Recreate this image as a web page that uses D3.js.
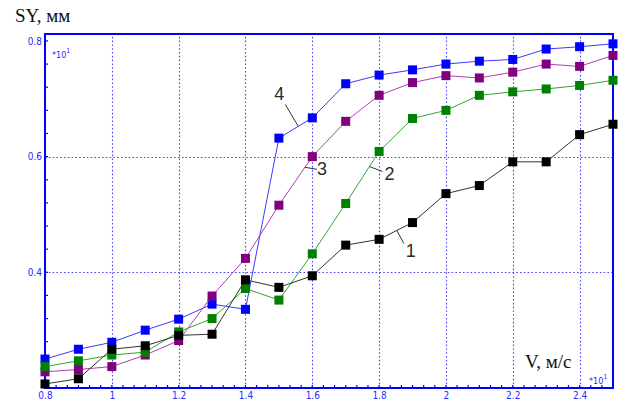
<!DOCTYPE html>
<html>
<head>
<meta charset="utf-8">
<script src="https://cdn.jsdelivr.net/npm/d3@7/dist/d3.min.js"></script>
<style>
  html, body { margin: 0; padding: 0; background: #fff; }
  svg { display: block; }
</style>
</head>
<body>
<svg id="chart" width="620" height="401"></svg>
<script>
// Speed V (×10 m/s) against displacement SY (×10 mm) for four curves
const speeds = [0.8, 0.9, 1.0, 1.1, 1.2, 1.3, 1.4, 1.5, 1.6, 1.7, 1.8, 1.9, 2.0, 2.1, 2.2, 2.3, 2.4, 2.5];
const curve1 = [0.207, 0.216, 0.267, 0.273, 0.291, 0.293, 0.387, 0.374, 0.394, 0.447, 0.457, 0.486, 0.536, 0.550, 0.591, 0.591, 0.638, 0.656];
const curve2 = [0.237, 0.247, 0.257, 0.262, 0.297, 0.320, 0.372, 0.352, 0.432, 0.519, 0.609, 0.666, 0.680, 0.706, 0.712, 0.717, 0.723, 0.732];
const curve3 = [0.228, 0.232, 0.237, 0.257, 0.282, 0.359, 0.424, 0.516, 0.600, 0.661, 0.706, 0.728, 0.740, 0.736, 0.746, 0.760, 0.756, 0.775];
const curve4 = [0.250, 0.267, 0.279, 0.300, 0.319, 0.345, 0.336, 0.632, 0.667, 0.726, 0.741, 0.750, 0.760, 0.765, 0.768, 0.786, 0.790, 0.795];
const curveNames = ["1", "2", "3", "4"];

const xTickValues = [0.8, 1.0, 1.2, 1.4, 1.6, 1.8, 2.0, 2.2, 2.4];
const xTickLabels = ["0.8", "1", "1.2", "1.4", "1.6", "1.8", "2", "2.2", "2.4"];
const yTickValues = [0.4, 0.6, 0.8];
const yTickLabels = ["0.4", "0.6", "0.8"];

const svg = d3.select("#chart");
const BLUE = "#0000ff";
const GRID = "#4646ff";
const LABEL_BLUE = "#2b2bff";
const TICK_FONT = "'Liberation Sans Narrow', 'Arial Narrow', 'DejaVu Sans Condensed', Arial, sans-serif";

const plotLeft = 45, plotRight = 613, plotTop = 34, plotBottom = 388;
const x = d3.scaleLinear().domain([0.8, 2.5]).range([plotLeft, plotRight]);
const y = d3.scaleLinear().domain([0.2, 0.812]).range([plotBottom, plotTop]);

svg.append("rect").attr("width", 620).attr("height", 401).attr("fill", "#fff");

// dotted grid
const grid = svg.append("g").attr("stroke", GRID).attr("stroke-width", 1.1)
  .attr("stroke-dasharray", "1.6,2.2");
grid.selectAll("line.v").data(xTickValues.filter(v => v > 0.8)).join("line")
  .attr("class", "v")
  .attr("x1", d => Math.round(x(d)) + 0.5).attr("x2", d => Math.round(x(d)) + 0.5)
  .attr("y1", plotBottom).attr("y2", plotTop);
grid.selectAll("line.h").data(yTickValues.filter(v => v < 0.8)).join("line")
  .attr("class", "h")
  .attr("x1", plotLeft).attr("x2", plotRight)
  .attr("y1", d => Math.round(y(d)) + 0.5).attr("y2", d => Math.round(y(d)) + 0.5);

// minor ticks
const minorX = d3.range(0, 52).map(i => 0.8 + i * 0.2 / 6).filter(v => v <= 2.5);
svg.append("g").attr("stroke", BLUE).attr("stroke-width", 1.2)
  .selectAll("line").data(minorX).join("line")
  .attr("x1", d => x(d)).attr("x2", d => x(d))
  .attr("y1", plotBottom).attr("y2", plotBottom - 3);
const minorY = d3.range(0, 16).map(i => 0.2 + i * 0.04).filter(v => v <= 0.81);
svg.append("g").attr("stroke", BLUE).attr("stroke-width", 1.2)
  .selectAll("line").data(minorY).join("line")
  .attr("x1", plotLeft).attr("x2", plotLeft + 3)
  .attr("y1", d => y(d)).attr("y2", d => y(d));

// frame
svg.append("rect").attr("x", plotLeft).attr("y", plotTop)
  .attr("width", plotRight - plotLeft).attr("height", plotBottom - plotTop)
  .attr("fill", "none").attr("stroke", BLUE).attr("stroke-width", 2);

// axes labels
const xAxis = d3.axisBottom(x).tickValues(xTickValues)
  .tickFormat((d, i) => xTickLabels[i]).tickSize(0).tickPadding(4);
const gx = svg.append("g").attr("transform", `translate(0,${plotBottom})`).call(xAxis);
gx.select(".domain").remove();
gx.selectAll("text").attr("fill", LABEL_BLUE).style("font-family", TICK_FONT).style("font-size", "10px");

const yAxis = d3.axisLeft(y).tickValues(yTickValues)
  .tickFormat((d, i) => yTickLabels[i]).tickSize(0).tickPadding(3);
const gy = svg.append("g").attr("transform", `translate(${plotLeft},0)`).call(yAxis);
gy.select(".domain").remove();
gy.selectAll("text").attr("fill", LABEL_BLUE).style("font-family", TICK_FONT).style("font-size", "10px");

// scale multipliers
function multiplier(px, py) {
  const t = svg.append("text").attr("x", px).attr("y", py)
    .attr("fill", LABEL_BLUE).style("font-family", TICK_FONT).style("font-size", "9px");
  t.append("tspan").text("*10");
  t.append("tspan").attr("dy", -5).style("font-size", "7px").text("1");
}
multiplier(52, 58);
multiplier(589, 384);

// axis titles
svg.append("text").attr("x", 15).attr("y", 22).text("SY, мм")
  .style("font-family", "'Liberation Serif', 'Times New Roman', serif").style("font-size", "19px").attr("fill", "#111");
svg.append("text").attr("x", 525).attr("y", 368).text("V, м/с")
  .style("font-family", "'Liberation Serif', 'Times New Roman', serif").style("font-size", "19px").attr("fill", "#111");

// series
const series = [
  { name: curveNames[3], values: curve4, line: "#3a3aff", mark: "#0000ff", anchor: 1.558, lead: [-13, -22], txt: [-24, -26] },
  { name: curveNames[2], values: curve3, line: "#b23fb2", mark: "#800080", anchor: 1.578, lead: [12, 2], txt: [12, 7.5] },
  { name: curveNames[1], values: curve2, line: "#2fa82f", mark: "#008000", anchor: 1.771, lead: [13, 5], txt: [15, 13] },
  { name: curveNames[0], values: curve1, line: "#333333", mark: "#000000", anchor: 1.853, lead: [7, 13], txt: [9, 27] }
];

const line = d3.line().x(d => x(d[0])).y(d => y(d[1]));
const S = 9;
series.forEach(s => {
  const pts = speeds.map((v, i) => [v, s.values[i]]);
  svg.append("path").attr("d", line(pts)).attr("fill", "none")
    .attr("stroke", s.line).attr("stroke-width", 1);
  svg.append("g").selectAll("rect").data(pts).join("rect")
    .attr("x", d => x(d[0]) - S / 2).attr("y", d => y(d[1]) - S / 2)
    .attr("width", S).attr("height", S).attr("fill", s.mark);
});

// curve numbers with leader lines
series.forEach(s => {
  const yv = d3.scaleLinear().domain(speeds).range(s.values)(s.anchor);
  const ax = x(s.anchor), ay = y(yv);
  svg.append("line").attr("x1", ax).attr("y1", ay)
    .attr("x2", ax + s.lead[0]).attr("y2", ay + s.lead[1])
    .attr("stroke", "#333").attr("stroke-width", 1);
  svg.append("text").attr("x", ax + s.txt[0]).attr("y", ay + s.txt[1]).text(s.name)
    .style("font-family", "'Liberation Sans', Arial, sans-serif").style("font-size", "18px")
    .attr("fill", "#2a2a2a");
});
</script>
</body>
</html>
